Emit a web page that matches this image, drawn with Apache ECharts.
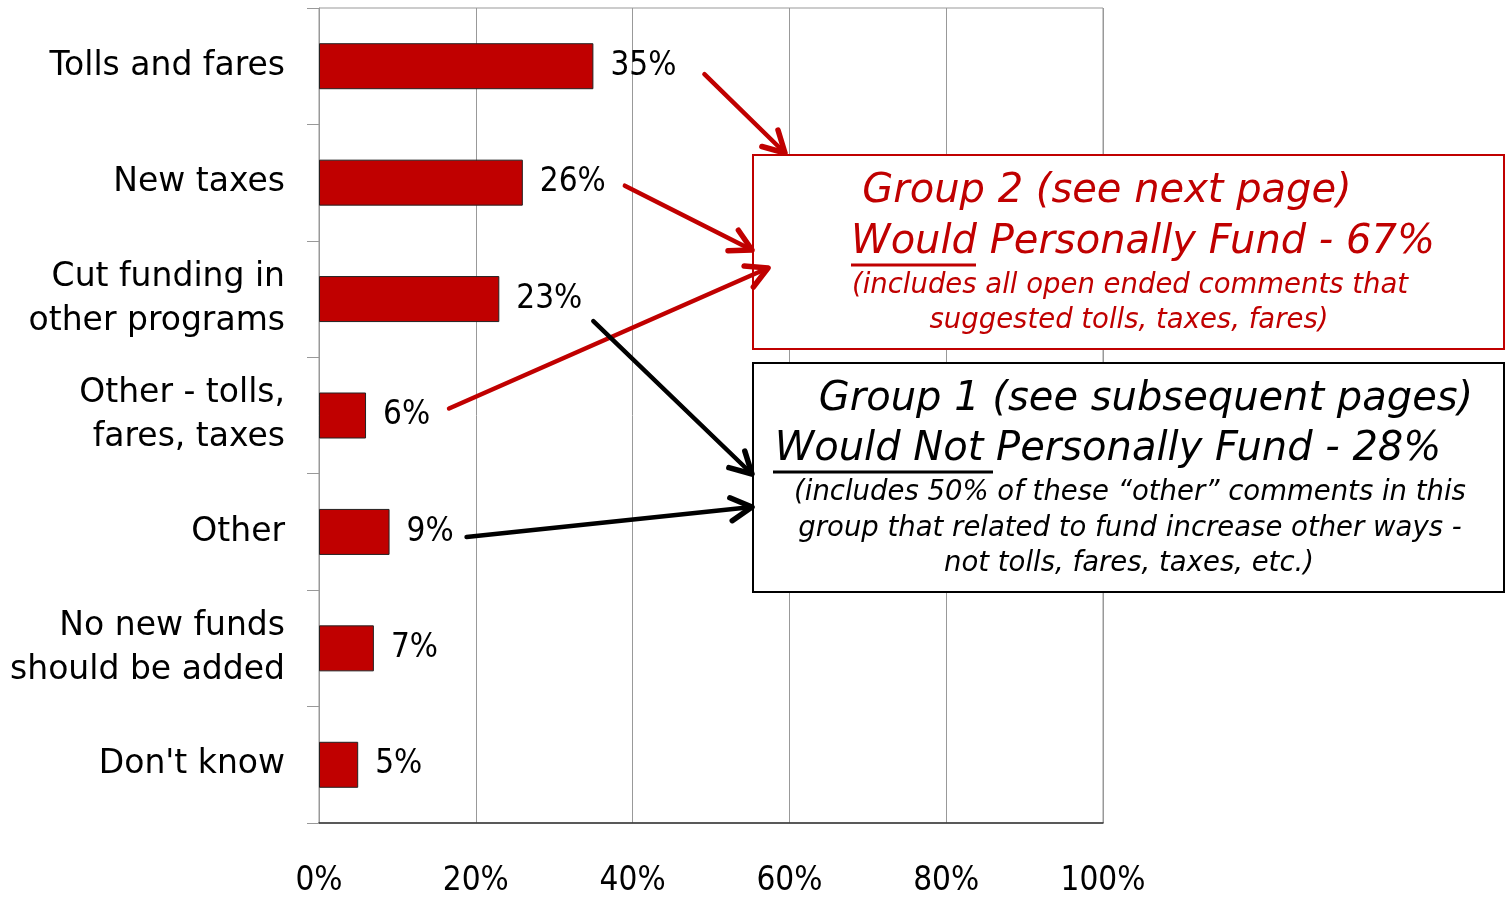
<!DOCTYPE html>
<html>
<head>
<meta charset="utf-8">
<script src="https://cdn.jsdelivr.net/npm/echarts@6/dist/echarts.min.js"></script>
<style>
  html, body { margin: 0; padding: 0; background: #fff; }
  #chart { width: 1505px; height: 898px; }
</style>
</head>
<body>
<div id="chart"></div>
<script>
// Funding preferences: share of respondents per suggested source
const categories = [
  'Tolls and fares',
  'New taxes',
  'Cut funding in\nother programs',
  'Other - tolls,\nfares, taxes',
  'Other',
  'No new funds\nshould be added',
  "Don't know"
];
const shares = [35, 26, 23, 6, 9, 7, 5];
const xTicks = [0, 20, 40, 60, 80, 100];

const RED = '#C00000';
const NUM_FONT = '"DejaVu Sans Condensed", "Liberation Sans", sans-serif';
const chart = echarts.init(document.getElementById('chart'));

chart.setOption({
  animation: false,
  backgroundColor: '#fff',
  grid: {
    left: 319, right: 402, top: 8, bottom: 68,
    show: true, borderColor: '#999', borderWidth: 1
  },
  xAxis: {
    type: 'value', min: xTicks[0], max: xTicks[xTicks.length - 1], interval: 20,
    axisLine: { show: true, lineStyle: { color: '#333', width: 1.5 } },
    axisTick: { show: false },
    splitLine: { show: true, lineStyle: { color: '#999', width: 1 } },
    axisLabel: {
      margin: 42, formatter: '{value}%', color: '#000',
      fontFamily: NUM_FONT, fontSize: 33
    }
  },
  yAxis: {
    type: 'category', data: categories, inverse: true,
    axisLine: { show: true, lineStyle: { color: '#999', width: 1 } },
    axisTick: { show: true, length: 12, lineStyle: { color: '#999' } },
    axisLabel: {
      margin: 34, color: '#000', fontFamily: 'DejaVu Sans', fontSize: 33,
      lineHeight: 44, align: 'right'
    }
  },
  series: [{
    type: 'bar', data: shares, barWidth: 46,
    itemStyle: { color: RED, borderColor: '#222', borderWidth: 1 },
    label: {
      show: true, position: 'right', distance: 17, formatter: '{c}%',
      color: '#000', fontFamily: NUM_FONT, fontSize: 33
    }
  }]
});

// Annotation callouts: grouped summaries with arrows from the bar labels
function arrow(from, to, color) {
  const ang = Math.atan2(to[1] - from[1], to[0] - from[0]);
  const len = 24, spread = 0.5;
  const a = [to[0] - len * Math.cos(ang - spread), to[1] - len * Math.sin(ang - spread)];
  const b = [to[0] - len * Math.cos(ang + spread), to[1] - len * Math.sin(ang + spread)];
  return [
    { type: 'polyline', z: 20, shape: { points: [from, to] },
      style: { stroke: color, lineWidth: 4.5, lineCap: 'round' } },
    { type: 'polyline', z: 20, shape: { points: [a, to, b] },
      style: { stroke: color, lineWidth: 5.5, lineCap: 'round', lineJoin: 'round', fill: null } }
  ];
}
function tail(idx, dx, dy) {
  const p = chart.convertToPixel({ seriesIndex: 0 }, [shares[idx], idx]);
  return [p[0] + dx, p[1] + dy];
}
function txt(x, y, s, size, color) {
  return { type: 'text', z: 15, x: x, y: y,
    style: { text: s, fill: color, fontFamily: 'DejaVu Sans', fontStyle: 'italic',
      fontSize: size, align: 'center', verticalAlign: 'middle' } };
}

const boxFont = 40, noteFont = 27.5;
const graphics = [
  { type: 'rect', z: 10, shape: { x: 753, y: 155, width: 751, height: 194 },
    style: { fill: '#fff', stroke: RED, lineWidth: 2 } },
  txt(1107, 192, 'Group 2 (see next page)', boxFont, RED),
  txt(1143, 243, 'Would Personally Fund - 67%', boxFont, RED),
  { type: 'line', z: 15, shape: { x1: 851, y1: 265, x2: 976, y2: 265 },
    style: { stroke: RED, lineWidth: 3 } },
  txt(1130, 286, '(includes all open ended comments that', noteFont, RED),
  txt(1129, 321, 'suggested tolls, taxes, fares)', noteFont, RED),

  { type: 'rect', z: 10, shape: { x: 753, y: 363, width: 751, height: 229 },
    style: { fill: '#fff', stroke: '#000', lineWidth: 2 } },
  txt(1146, 400, 'Group 1 (see subsequent pages)', boxFont, '#000'),
  txt(1108, 450, 'Would Not Personally Fund - 28%', boxFont, '#000'),
  { type: 'line', z: 15, shape: { x1: 773, y1: 472, x2: 993, y2: 472 },
    style: { stroke: '#000', lineWidth: 3 } },
  txt(1130, 493, '(includes 50% of these \u201cother\u201d comments in this', noteFont, '#000'),
  txt(1130, 529, 'group that related to fund increase other ways -', noteFont, '#000'),
  txt(1129, 564, 'not tolls, fares, taxes, etc.)', noteFont, '#000')
]
  .concat(arrow(tail(0, 111, 8), [785, 153], RED))
  .concat(arrow(tail(1, 102, 3), [752, 250], RED))
  .concat(arrow(tail(3, 83, -7), [768, 268], RED))
  .concat(arrow(tail(2, 94, 22), [752, 474], '#000'))
  .concat(arrow(tail(4, 77, 5), [752, 507], '#000'));

chart.setOption({ graphic: graphics });
</script>
</body>
</html>
